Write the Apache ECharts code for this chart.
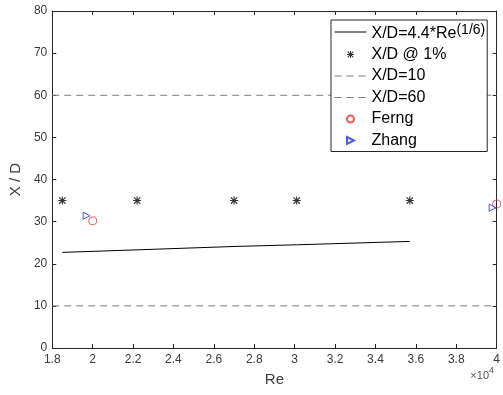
<!DOCTYPE html>
<html>
<head>
<meta charset="utf-8">
<script src="https://cdn.jsdelivr.net/npm/echarts@6/dist/echarts.min.js"></script>
<style>html,body{margin:0;padding:0;background:#fff;}#c{width:503px;height:395px;}</style>
</head>
<body>
<div id="c"></div>
<script>
// Re values in units of 1e4
const fitRe = [1.85, 2.22, 2.70, 3.01, 3.57];
const fitXD = [22.7, 23.3, 24.1, 24.5, 25.3];
const onePctRe = [1.85, 2.22, 2.70, 3.01, 3.57];
const onePctXD = [35, 35, 35, 35, 35];
const refRe = [1.8, 4.0];
const xd10 = [10, 10];
const xd60 = [60, 60];
const ferngRe = [2.0, 4.0];
const ferngXD = [30.2, 34.2];
const zhangRe = [1.97, 3.98];
const zhangXD = [31.4, 33.3];
const xTicks = { min: 1.8, max: 4.0, step: 0.2 };
const yTicks = { min: 0, max: 80, step: 10 };
const names = ['X/D=4.4*Re^(1/6)', 'X/D @ 1%', 'X/D=10', 'X/D=60', 'Ferng', 'Zhang'];

const zip = (a, b) => a.map((v, i) => [v, b[i]]);
const FONT = '"Liberation Sans", Arial, Helvetica, sans-serif';
const AX = '#262626';
const LBL = '#3a3a3a';
const star = 'path://M8.6 0L11.4 0L11.4 20L8.6 20Z M0 8.6L20 8.6L20 11.4L0 11.4Z M1 3L3 1L19 17L17 19Z M17 1L19 3L3 19L1 17Z';
const triRight = 'path://M1 1L19 10L1 19Z';
const ring = 'path://M10 1A9 9 0 1 1 9.99 1Z';

const chart = echarts.init(document.getElementById('c'), null, { renderer: 'canvas' });
const xBase = {
  type: 'value', min: xTicks.min, max: xTicks.max, interval: xTicks.step,
  axisLine: { show: true, onZero: false, lineStyle: { color: AX, width: 1 } },
  axisTick: { show: true, inside: true, length: 4, lineStyle: { color: AX } },
  splitLine: { show: false }
};
const yBase = {
  type: 'value', min: yTicks.min, max: yTicks.max, interval: yTicks.step,
  axisLine: { show: true, onZero: false, lineStyle: { color: AX, width: 1 } },
  axisTick: { show: true, inside: true, length: 4, lineStyle: { color: AX } },
  splitLine: { show: false }
};
const hiddenSym = { color: 'rgba(0,0,0,0)', borderColor: 'rgba(0,0,0,0)', borderWidth: 0, opacity: 0 };
chart.setOption({
  animation: false,
  backgroundColor: '#fff',
  textStyle: { fontFamily: FONT },
  grid: { left: 48, right: 4, top: 11, bottom: 47 },
  xAxis: [
    Object.assign({}, xBase, {
      position: 'bottom',
      name: 'Re', nameLocation: 'middle', nameGap: 24,
      nameTextStyle: { fontSize: 15, color: LBL, fontFamily: FONT },
      axisLabel: { show: true, fontSize: 12, color: LBL, margin: 6, fontFamily: FONT,
        showMinLabel: true, showMaxLabel: true,
        formatter: v => String(+(+v).toFixed(1)) }
    }),
    Object.assign({}, xBase, { position: 'top', axisLabel: { show: false } })
  ],
  yAxis: [
    Object.assign({}, yBase, {
      position: 'left',
      name: 'X / D', nameLocation: 'middle', nameGap: 24, nameRotate: 90,
      nameTextStyle: { fontSize: 15, color: LBL, fontFamily: FONT },
      axisLabel: { show: true, fontSize: 12, color: LBL, margin: 5, fontFamily: FONT,
        showMinLabel: true, showMaxLabel: true }
    }),
    Object.assign({}, yBase, { position: 'right', axisLabel: { show: false } })
  ],
  legend: {
    show: true, orient: 'vertical', left: 331, top: 20,
    padding: [2, 2, 2, 3], itemGap: 3.5, itemWidth: 32, itemHeight: 7,
    backgroundColor: '#fff', borderColor: AX, borderWidth: 1, borderRadius: 0,
    lineStyle: { width: 1 },
    data: [
      { name: names[0], itemStyle: hiddenSym },
      { name: names[1] },
      { name: names[2], itemStyle: hiddenSym },
      { name: names[3], itemStyle: hiddenSym },
      { name: names[4] },
      { name: names[5] }
    ],
    textStyle: {
      fontSize: 16, lineHeight: 18, color: '#000', fontFamily: FONT,
      rich: {
        b: { fontSize: 16, lineHeight: 18, padding: [4, 0, 0, 0], color: '#000', fontFamily: FONT },
        s: { fontSize: 14, lineHeight: 14, verticalAlign: 'top', color: '#000', fontFamily: FONT }
      }
    },
    formatter: n => n === names[0] ? '{b|X/D=4.4*Re}{s|(1/6)}' : n
  },
  graphic: [{
    type: 'text', right: 9, top: 366, z: 10,
    style: {
      text: '{a|\u00d710}{p|4}',
      fontFamily: FONT,
      rich: {
        a: { fontSize: 11, lineHeight: 14, padding: [4, 0, 0, 0], fill: '#555', fontFamily: FONT },
        p: { fontSize: 9, lineHeight: 10, verticalAlign: 'top', fill: '#555', fontFamily: FONT }
      }
    }
  }],
  series: [
    { name: names[0], type: 'line', xAxisIndex: 0, yAxisIndex: 0, data: zip(fitRe, fitXD),
      symbol: 'none', showSymbol: false, smooth: false,
      lineStyle: { color: '#000', width: 1 }, itemStyle: { color: '#000' } },
    { name: names[1], type: 'scatter', xAxisIndex: 0, yAxisIndex: 0, data: zip(onePctRe, onePctXD),
      symbol: star, symbolSize: 8, symbolKeepAspect: true, itemStyle: { color: '#000' } },
    { name: names[2], type: 'line', xAxisIndex: 0, yAxisIndex: 0, data: zip(refRe, xd10),
      symbol: 'none', showSymbol: false,
      lineStyle: { color: '#7a7a7a', width: 1, type: [7, 5] }, itemStyle: { color: '#7a7a7a' } },
    { name: names[3], type: 'line', xAxisIndex: 0, yAxisIndex: 0, data: zip(refRe, xd60),
      symbol: 'none', showSymbol: false,
      lineStyle: { color: '#7a7a7a', width: 1, type: [7, 5] }, itemStyle: { color: '#7a7a7a' } },
    { name: names[4], type: 'scatter', xAxisIndex: 0, yAxisIndex: 0, data: zip(ferngRe, ferngXD),
      symbol: ring, symbolSize: 8, symbolKeepAspect: true,
      itemStyle: { color: 'rgba(255,255,255,0)', borderColor: '#e83030', borderWidth: 1 } },
    { name: names[5], type: 'scatter', xAxisIndex: 0, yAxisIndex: 0, data: zip(zhangRe, zhangXD),
      symbol: triRight, symbolSize: 7, symbolKeepAspect: true,
      itemStyle: { color: 'rgba(255,255,255,0)', borderColor: '#2030e0', borderWidth: 1 } }
  ]
});
</script>
</body>
</html>
